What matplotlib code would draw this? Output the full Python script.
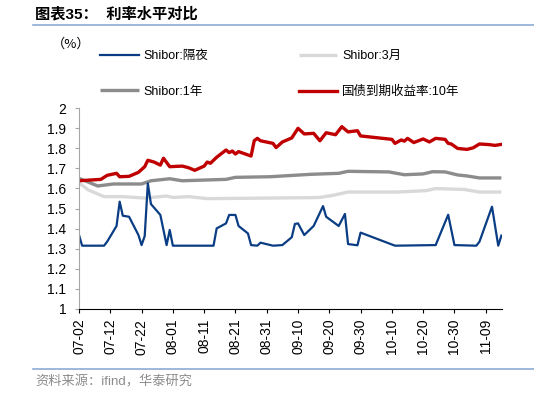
import matplotlib
matplotlib.use('Agg')
import matplotlib.pyplot as plt
import pandas as pd
from matplotlib.lines import Line2D

plt.rcParams['font.family'] = ['Liberation Sans', 'Noto Sans CJK SC']

YEAR = '2025-'

# Shibor overnight (隔夜)
on_dates = ['07-02', '07-03', '07-10', '07-11', '07-14', '07-15', '07-16', '07-18', '07-21', '07-22',
            '07-23', '07-24', '07-25', '07-28', '07-30', '07-31', '08-01', '08-14', '08-15', '08-18',
            '08-19', '08-21', '08-22', '08-25', '08-26', '08-28', '08-29', '09-02', '09-05', '09-08',
            '09-09', '09-10', '09-12', '09-15', '09-18', '09-19', '09-23', '09-25', '09-26', '09-29',
            '09-30', '10-11', '10-24', '10-28', '10-30', '11-06', '11-07', '11-11', '11-13', '11-14']
on_values = [1.368, 1.315, 1.315, 1.335, 1.413, 1.534, 1.464, 1.459, 1.368, 1.318,
             1.363, 1.625, 1.522, 1.468, 1.318, 1.393, 1.315, 1.315, 1.401, 1.426,
             1.468, 1.468, 1.413, 1.376, 1.318, 1.315, 1.330, 1.315, 1.318, 1.357,
             1.423, 1.426, 1.368, 1.413, 1.512, 1.459, 1.413, 1.473, 1.323, 1.317,
             1.380, 1.315, 1.318, 1.469, 1.318, 1.315, 1.335, 1.509, 1.315, 1.365]

# Shibor 3M (3月)
m3_dates = ['07-02', '07-05', '07-10', '07-16', '07-23', '07-30', '08-01', '08-06', '08-12', '09-14',
            '09-17', '09-21', '09-26', '10-12', '10-21', '10-24', '11-02', '11-07', '11-14']
m3_values = [1.628, 1.592, 1.559, 1.559, 1.552, 1.562, 1.555, 1.559, 1.549, 1.554,
             1.555, 1.565, 1.582, 1.582, 1.589, 1.599, 1.595, 1.582, 1.582]

# Shibor 1Y (1年)
y1_dates = ['07-02', '07-08', '07-13', '07-22', '07-25', '07-31', '08-04', '08-18', '08-21', '09-01',
            '09-14', '09-23', '09-26', '10-09', '10-14', '10-20', '10-23', '10-27', '10-31', '11-03',
            '11-07', '11-14']
y1_values = [1.650, 1.612, 1.622, 1.622, 1.638, 1.648, 1.638, 1.645, 1.655, 1.658,
             1.670, 1.675, 1.685, 1.682, 1.668, 1.672, 1.683, 1.682, 1.667, 1.662,
             1.652, 1.652]

# 国债到期收益率:10年
cgb_dates = ['07-02', '07-09', '07-11', '07-14', '07-15', '07-18', '07-21', '07-23', '07-24', '07-26',
             '07-28', '07-29', '07-31', '08-04', '08-06', '08-08', '08-11', '08-12', '08-13', '08-15',
             '08-18', '08-19', '08-20', '08-21', '08-22', '08-26', '08-27', '08-28', '08-29', '09-02',
             '09-03', '09-05', '09-08', '09-10', '09-12', '09-15', '09-17', '09-19', '09-22', '09-24',
             '09-26', '09-29', '09-30', '10-10', '10-11', '10-13', '10-14', '10-15', '10-17', '10-20',
             '10-22', '10-24', '10-27', '10-28', '10-29', '10-31', '11-03', '11-05', '11-07', '11-10',
             '11-12', '11-14']
cgb_values = [1.638, 1.645, 1.665, 1.675, 1.658, 1.660, 1.680, 1.708, 1.740, 1.731,
              1.716, 1.750, 1.708, 1.711, 1.703, 1.690, 1.711, 1.731, 1.725, 1.755,
              1.791, 1.778, 1.786, 1.771, 1.783, 1.761, 1.837, 1.849, 1.837, 1.824,
              1.803, 1.831, 1.851, 1.899, 1.871, 1.874, 1.837, 1.877, 1.867, 1.907,
              1.881, 1.887, 1.861, 1.844, 1.824, 1.841, 1.835, 1.849, 1.828, 1.846,
              1.831, 1.849, 1.844, 1.824, 1.821, 1.799, 1.794, 1.802, 1.821, 1.818,
              1.814, 1.819]

x_tick_labels = ['07-02', '07-12', '07-22', '08-01', '08-11', '08-21', '08-31',
                 '09-10', '09-20', '09-30', '10-10', '10-20', '10-30', '11-09']
y_ticks = [1.0, 1.1, 1.2, 1.3, 1.4, 1.5, 1.6, 1.7, 1.8, 1.9, 2.0]
y_tick_labels = ['1', '1.1', '1.2', '1.3', '1.4', '1.5', '1.6', '1.7', '1.8', '1.9', '2']

labels = ['Shibor:隔夜', 'Shibor:1年', 'Shibor:3月', '国债到期收益率:10年']


def to_dt(lst):
    return pd.to_datetime([YEAR + d for d in lst])


W, H = 534, 394
fig = plt.figure(figsize=(W / 100, H / 100), dpi=100)
ax = fig.add_axes([79 / W, 1 - 309 / H, (502 - 79) / W, (309 - 108) / H])

l_m3, = ax.plot(to_dt(m3_dates), m3_values, color='#d9d9d9', lw=2.4, solid_capstyle='butt')
l_y1, = ax.plot(to_dt(y1_dates), y1_values, color='#8c8c8c', lw=2.4, solid_capstyle='butt')
l_on, = ax.plot(to_dt(on_dates), on_values, color='#0a3d84', lw=1.6)
l_cgb, = ax.plot(to_dt(cgb_dates), cgb_values, color='#c00000', lw=2.4)

x0 = pd.Timestamp(YEAR + '07-02')
ax.set_xlim(x0, x0 + pd.Timedelta(days=135.2))
ax.set_ylim(1.0, 2.0)
ax.set_xticks(to_dt(x_tick_labels))
ax.set_xticklabels(x_tick_labels, rotation=90, fontsize=10)
ax.set_yticks(y_ticks)
ax.set_yticklabels(y_tick_labels, fontsize=10)

for s in ['top', 'right']:
    ax.spines[s].set_visible(False)
ax.spines['left'].set_color('#a6a6a6')
ax.spines['left'].set_linewidth(0.8)
ax.spines['bottom'].set_color('black')
ax.spines['bottom'].set_linewidth(0.8)
ax.tick_params(axis='y', direction='out', length=3, width=0.8, color='#a6a6a6', pad=6)
ax.tick_params(axis='x', direction='out', length=3, width=0.8, color='black', pad=4)

fig.legend([l_on, l_y1, l_m3, l_cgb], labels, ncol=2, loc='upper left',
           bbox_to_anchor=(100 / W, 1 - 50 / H), frameon=False, fontsize=9,
           handlelength=3.1, handletextpad=0.4, columnspacing=7.2,
           labelspacing=1.9, borderpad=0, borderaxespad=0)

fig.text(35 / W, 1 - 14 / H, '图表35：  利率水平对比', fontsize=11, fontweight='bold',
         va='center', ha='left')
fig.add_artist(Line2D([33 / W, 1], [1 - 25 / H, 1 - 25 / H], color='#8eaad3', lw=1.2))
fig.text(52 / W, 1 - 44 / H, '（%）', fontsize=9.5, va='center', ha='left',
         family=['Noto Sans CJK SC'])
fig.add_artist(Line2D([33 / W, 1], [1 - 369 / H, 1 - 369 / H], color='#8eaad3', lw=1.2))
fig.text(35 / W, 1 - 382 / H, '资料来源：ifind，华泰研究', fontsize=9.5, color='#8c8c8c',
         va='center', ha='left')

fig.savefig('out.png', dpi=100)
